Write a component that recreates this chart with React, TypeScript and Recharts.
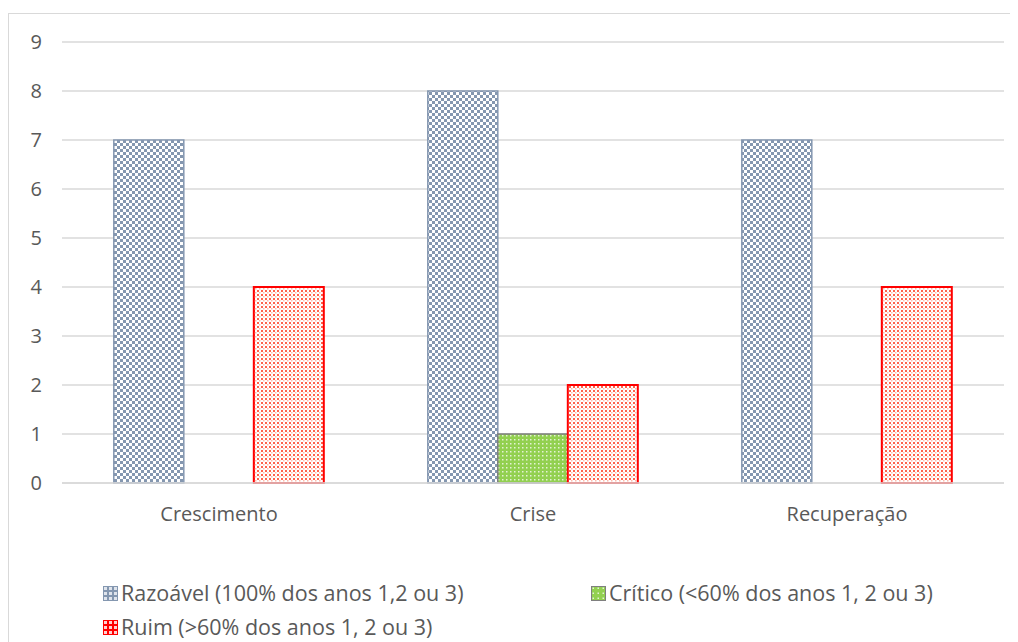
import React from 'react';
import { BarChart, Bar, XAxis, YAxis, CartesianGrid } from 'recharts';

// --- DATA ---
const categories = ['Crescimento', 'Crise', 'Recuperação'];
const razoavel = [7, 8, 7];
const critico = [null, 1, null];
const ruim = [4, 2, 4];
const yTicks = [0, 1, 2, 3, 4, 5, 6, 7, 8, 9];

const SERIES = [
  { key: 'razoavel', name: 'Razoável (100% dos anos 1,2 ou 3)', fill: 'url(#patBlue)', stroke: '#8497b0', strokeWidth: 1.5 },
  { key: 'critico', name: 'Crítico (<60% dos anos 1, 2 ou 3)', fill: 'url(#patGreen)', stroke: '#7f7f7f', strokeWidth: 1.5 },
  { key: 'ruim', name: 'Ruim (>60% dos anos 1, 2 ou 3)', fill: 'url(#patRed)', stroke: '#ff0000', strokeWidth: 2 },
];

const data = categories.map((c, i) => ({
  name: c,
  razoavel: razoavel[i],
  critico: critico[i],
  ruim: ruim[i],
}));

const FONT = '"Open Sans", "Liberation Sans", sans-serif';
const TEXT = '#595959';

const Patterns = () => (
  <defs>
    <pattern id="patBlue" width="6" height="6" patternUnits="userSpaceOnUse">
      <rect width="6" height="6" fill="#ffffff" />
      <rect width="3" height="3" fill="#8497b0" />
      <rect x="3" y="3" width="3" height="3" fill="#8497b0" />
    </pattern>
    <pattern id="patGreen" width="4" height="4" patternUnits="userSpaceOnUse">
      <rect width="4" height="4" fill="#92d050" />
      <rect x="1" y="1" width="1.5" height="1.5" fill="#e4f3d4" />
    </pattern>
    <pattern id="patRed" width="4" height="4" patternUnits="userSpaceOnUse">
      <rect width="4" height="4" fill="#ffffff" />
      <rect x="0" y="0" width="2" height="2" fill="#ff3b1f" opacity="0.8" />
      <rect x="2" y="2" width="1.5" height="1.5" fill="#ff8a70" opacity="0.6" />
    </pattern>
  </defs>
);

const LegendIcon = ({ idx }: { idx: number }) => (
  <svg width={15} height={15} style={{ marginRight: 3, verticalAlign: 'middle' }}>
    <defs>
      <pattern id={`lp${idx}`} width="5" height="5" patternUnits="userSpaceOnUse">
        {idx === 0 && (
          <>
            <rect width="5" height="5" fill="#8497b0" />
            <rect x="1" y="1" width="3" height="3" fill="#dfe4ec" />
          </>
        )}
        {idx === 1 && (
          <>
            <rect width="5" height="5" fill="#92d050" />
            <rect x="1.5" y="1.5" width="1.5" height="1.5" fill="#e4f3d4" />
          </>
        )}
        {idx === 2 && (
          <>
            <rect width="5" height="5" fill="#ff0000" />
            <rect x="1" y="1" width="3" height="3" fill="#ffd0d0" />
          </>
        )}
      </pattern>
    </defs>
    <rect x={0.5} y={0.5} width={14} height={14} fill={`url(#lp${idx})`} stroke={SERIES[idx].stroke} />
  </svg>
);

const LegendItem = ({ idx, left, top }: { idx: number; left: number; top: number }) => (
  <div style={{ position: 'absolute', left, top, fontFamily: FONT, fontSize: 21.5, color: TEXT, whiteSpace: 'nowrap', lineHeight: '24px' }}>
    <LegendIcon idx={idx} />
    <span style={{ verticalAlign: 'middle' }}>{SERIES[idx].name}</span>
  </div>
);

export default function App() {
  return (
    <div
      style={{
        position: 'relative',
        marginTop: 5,
        width: 1009,
        height: 640,
        borderTop: '1px solid #d9d9d9',
        borderLeft: '1px solid #d9d9d9',
        background: '#fff',
        overflow: 'hidden',
      }}
    >
      <BarChart
        width={1002}
        height={560}
        data={data}
        margin={{ top: 28, right: 7, bottom: 61, left: 0 }}
        barCategoryGap="16.5%"
        barGap={0}
      >
        <Patterns />
        <CartesianGrid vertical={false} stroke="#d9d9d9" strokeWidth={1.5} />
        <XAxis
          dataKey="name"
          tickLine={false}
          axisLine={{ stroke: '#d9d9d9', strokeWidth: 1.5 }}
          tick={{ fill: TEXT, fontSize: 20, fontFamily: FONT }}
          tickMargin={18}
          height={30}
        />
        <YAxis
          width={53}
          domain={[0, 9]}
          ticks={yTicks}
          interval={0}
          axisLine={false}
          tickLine={false}
          tick={{ fill: TEXT, fontSize: 20, fontFamily: FONT }}
          tickMargin={14}
        />
        {SERIES.map((s) => (
          <Bar
            key={s.key}
            dataKey={s.key}
            name={s.name}
            fill={s.fill}
            stroke={s.stroke}
            strokeWidth={s.strokeWidth}
            isAnimationActive={false}
          />
        ))}
      </BarChart>
      <LegendItem idx={0} left={94} top={565} />
      <LegendItem idx={1} left={582} top={565} />
      <LegendItem idx={2} left={94} top={599} />
    </div>
  );
}
